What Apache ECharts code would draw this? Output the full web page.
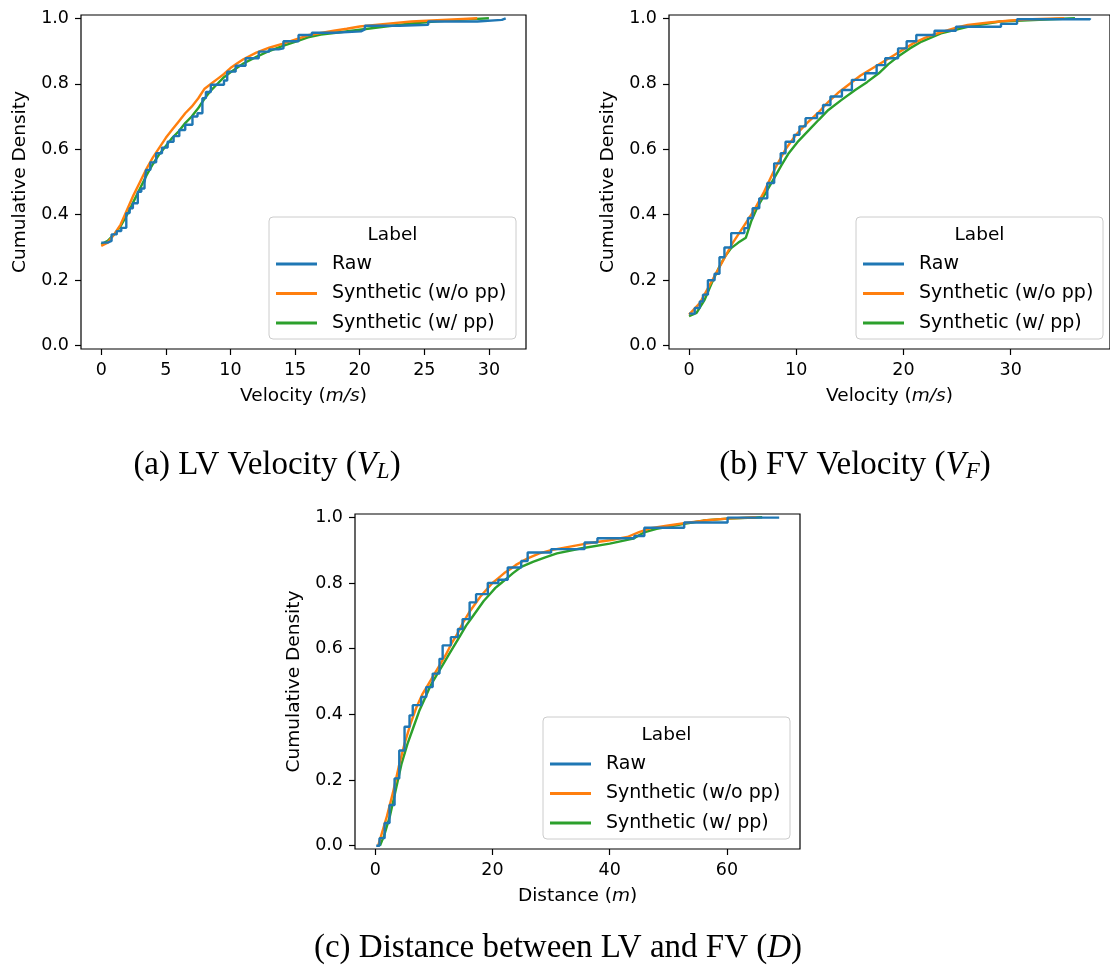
<!DOCTYPE html>
<html><head><meta charset="utf-8">
<script src="https://cdn.jsdelivr.net/npm/echarts@6/dist/echarts.min.js"></script>
<style>html,body{margin:0;padding:0;background:#fff}#c{width:1110px;height:978px}</style>
</head><body><div id="c"></div>
<script>
const seriesNames = ['Raw', 'Synthetic (w/o pp)', 'Synthetic (w/ pp)'];
const legendTitle = 'Label';
const yTicks = [0, 0.2, 0.4, 0.6, 0.8, 1.0];
const lvTicks = [0, 5, 10, 15, 20, 25, 30];
const fvTicks = [0, 10, 20, 30];
const dTicks = [0, 20, 40, 60];

// (a) LV velocity ECDF
const lvRaw = [[0,0.315],[0.5,0.32],[0.8,0.34],[1.2,0.35],[1.55,0.36],[1.94,0.405],[2.2,0.42],[2.45,0.435],[2.83,0.47],[3.1,0.48],[3.35,0.496],[3.47,0.537],[3.8,0.56],[4.25,0.588],[4.7,0.605],[5.14,0.623],[5.6,0.64],[6.04,0.659],[6.5,0.675],[7.06,0.70],[7.45,0.71],[7.83,0.756],[8.1,0.775],[8.48,0.797],[9.5,0.81],[9.75,0.837],[10.4,0.855],[11.17,0.878],[12.19,0.898],[13.0,0.905],[13.73,0.908],[14.1,0.93],[15.27,0.949],[16.3,0.956],[18,0.96],[20.1,0.966],[20.4,0.977],[23.1,0.98],[25.3,0.99],[29.1,0.995],[31.0,1.0],[31.3,1.0]];
const lvSynNoPP = [[0,0.305],[0.5,0.315],[1.0,0.34],[1.5,0.37],[2.0,0.415],[2.5,0.46],[3.0,0.50],[3.5,0.54],[4.0,0.575],[4.5,0.605],[5.0,0.635],[5.5,0.66],[6.0,0.685],[6.5,0.71],[7.0,0.73],[7.5,0.755],[8.0,0.785],[8.5,0.80],[9.0,0.815],[9.5,0.83],[10,0.848],[10.5,0.862],[11,0.875],[12,0.895],[13,0.91],[14,0.922],[15,0.935],[16,0.948],[17,0.955],[18,0.962],[19,0.968],[20,0.975],[21,0.979],[22,0.983],[24,0.99],[26,0.994],[28,0.998],[29.1,1.0]];
const lvSynPP = [[0,0.31],[0.5,0.32],[1,0.34],[1.5,0.365],[2,0.40],[2.5,0.44],[3,0.48],[3.5,0.52],[4,0.555],[4.5,0.585],[5,0.61],[5.5,0.635],[6,0.655],[6.5,0.68],[7,0.70],[7.5,0.725],[8,0.755],[8.5,0.78],[9,0.80],[9.5,0.82],[10,0.835],[11,0.862],[12,0.882],[13,0.90],[14,0.915],[15,0.928],[16,0.942],[17,0.95],[18,0.955],[20,0.965],[22,0.975],[24,0.984],[26,0.991],[28,0.996],[30,1.0]];

// (b) FV velocity ECDF
const fvRaw = [[0,0.098],[0.53,0.115],[1.0,0.135],[1.3,0.156],[1.76,0.20],[2.38,0.22],[2.84,0.27],[3.3,0.30],[3.93,0.344],[5.16,0.359],[5.5,0.39],[5.93,0.42],[6.55,0.45],[7.3,0.497],[7.94,0.557],[8.55,0.588],[9.0,0.623],[9.79,0.644],[10.3,0.67],[10.87,0.695],[11.94,0.71],[12.5,0.735],[13.19,0.761],[14.26,0.781],[15.19,0.812],[16.43,0.832],[17.5,0.857],[18.3,0.878],[19.5,0.908],[20.3,0.93],[21.2,0.949],[22.9,0.962],[24.9,0.974],[29.1,0.983],[30.6,0.997],[37.4,1.0]];
const fvSynNoPP = [[0,0.095],[1,0.13],[2,0.19],[3,0.25],[4,0.31],[5,0.36],[6,0.41],[7,0.47],[8,0.54],[9,0.60],[10,0.645],[11,0.68],[12,0.71],[13,0.745],[14,0.775],[15,0.80],[16,0.825],[17,0.845],[18,0.865],[19,0.885],[20,0.905],[21,0.925],[22,0.94],[23,0.952],[24,0.962],[25,0.972],[26,0.98],[28,0.987],[30,0.993],[32,0.997],[35,1.0]];
const fvSynPP = [[0,0.09],[0.7,0.10],[1.45,0.14],[2.1,0.19],[2.84,0.242],[3.4,0.275],[3.93,0.298],[4.6,0.315],[5.3,0.33],[5.8,0.38],[6.4,0.425],[7.2,0.47],[7.94,0.512],[8.6,0.55],[9.3,0.588],[10.2,0.625],[11.2,0.659],[12.1,0.69],[13.0,0.72],[14.2,0.75],[15.5,0.781],[16.6,0.805],[17.7,0.832],[18.6,0.86],[19.5,0.883],[20.6,0.908],[21.7,0.929],[23.5,0.954],[26,0.974],[29,0.99],[33.7,0.997],[36,1.0]];

// (c) distance ECDF
const dRaw = [[0.17,0],[0.73,0.023],[1.6,0.069],[2.44,0.124],[3.3,0.205],[4.1,0.29],[5.0,0.362],[5.85,0.397],[6.4,0.428],[7.84,0.453],[8.7,0.483],[9.8,0.524],[10.96,0.569],[11.5,0.61],[12.9,0.635],[14.1,0.66],[14.9,0.69],[16.1,0.741],[17.2,0.766],[19.2,0.80],[21.0,0.81],[22.6,0.847],[24.9,0.867],[26.0,0.893],[30.0,0.903],[35.7,0.923],[37.9,0.936],[44.2,0.943],[45.9,0.968],[52.7,0.984],[60.1,0.999],[68.9,1.0]];
const dSynNoPP = [[0.5,0],[1,0.03],[2,0.09],[3,0.16],[4,0.24],[5,0.31],[6,0.37],[7,0.42],[8,0.46],[9,0.49],[10,0.52],[11,0.55],[12,0.58],[13,0.615],[14,0.645],[15,0.68],[16,0.71],[17,0.735],[18,0.76],[19,0.78],[20,0.80],[21,0.815],[22,0.83],[23,0.842],[24,0.855],[25,0.865],[26,0.875],[28,0.89],[30,0.90],[33,0.91],[36,0.92],[40,0.93],[43,0.94],[45,0.955],[47,0.967],[50,0.975],[53,0.983],[56,0.99],[60,0.996],[65,1.0]];
const dSynPP = [[0.8,0],[1.5,0.03],[2.5,0.09],[3.5,0.17],[4.5,0.25],[5.5,0.31],[6.5,0.36],[7.5,0.41],[8.5,0.45],[9.5,0.49],[10.5,0.52],[11.5,0.55],[12.5,0.58],[13.5,0.61],[14.5,0.64],[15.5,0.67],[16.5,0.695],[17.5,0.72],[18.5,0.745],[19.5,0.765],[20.5,0.785],[21.5,0.80],[22.5,0.815],[23.5,0.83],[25,0.85],[27,0.865],[29,0.878],[31,0.89],[35,0.905],[40,0.92],[44,0.935],[46,0.955],[48,0.965],[52,0.978],[56,0.99],[60,0.996],[66,1.0]];

const colors = ['#1f77b4', '#ff7f0e', '#2ca02c'];
const FONT = 'DejaVu Sans';

const panels = [
  {grid:{left:81, top:15, width:445, height:334}, xmin:-1.565, xmax:32.87, ticks:lvTicks, xname:'Velocity ({i|m/s})', data:[lvRaw, lvSynNoPP, lvSynPP]},
  {grid:{left:669, top:15, width:444, height:334}, xmin:-1.87, xmax:39.27, ticks:fvTicks, xname:'Velocity ({i|m/s})', data:[fvRaw, fvSynNoPP, fvSynPP]},
  {grid:{left:355, top:514, width:445, height:335}, xmin:-3.45, xmax:72.45, ticks:dTicks, xname:'Distance ({i|m})', data:[dRaw, dSynNoPP, dSynPP]}
];

const grid = [], xAxis = [], yAxis = [], series = [], legend = [], graphic = [];
const tickStyle = {show:true, length:6, lineStyle:{color:'#000', width:1.2}};
panels.forEach((p, k) => {
  grid.push(Object.assign({show:true, borderColor:'#000', borderWidth:1.2, backgroundColor:'transparent', containLabel:false}, p.grid));
  xAxis.push({type:'value', gridIndex:k, min:p.xmin, max:p.xmax,
    axisLine:{show:false, onZero:false}, splitLine:{show:false},
    axisTick:Object.assign({customValues:p.ticks}, tickStyle),
    axisLabel:{customValues:p.ticks, fontSize:17.5, color:'#000', fontFamily:FONT, margin:12},
    name:p.xname, nameLocation:'middle', nameGap:38,
    nameTextStyle:{fontSize:18.5, color:'#000', fontFamily:FONT, rich:{i:{fontStyle:'italic', fontSize:18.5, color:'#000', fontFamily:FONT}}}
  });
  yAxis.push({type:'value', gridIndex:k, min:-0.01, max:1.01,
    axisLine:{show:false, onZero:false}, splitLine:{show:false},
    axisTick:Object.assign({customValues:yTicks}, tickStyle),
    axisLabel:{customValues:yTicks, fontSize:17.5, color:'#000', fontFamily:FONT, margin:12, formatter:v => v.toFixed(1)},
    name:'Cumulative Density', nameLocation:'middle', nameGap:51, nameRotate:90,
    nameTextStyle:{fontSize:18.5, color:'#000', fontFamily:FONT}
  });
  // draw order: w/ pp bottom, then w/o pp, raw on top
  [2, 1, 0].forEach(s => {
    series.push({type:'line', name:seriesNames[s], xAxisIndex:k, yAxisIndex:k, data:p.data[s],
      step:s === 0 ? 'end' : false, showSymbol:false, symbol:'none', clip:true, z:2 + (2 - s) * 0.1,
      lineStyle:{color:colors[s], width:2.4}, itemStyle:{color:colors[s]}, emphasis:{disabled:true}});
  });
  const g = p.grid;
  const bw = 247, bh = 122;
  const bx = g.left + g.width - 10 - bw, by = g.top + g.height - 10 - bh;
  graphic.push({type:'rect', shape:{x:bx, y:by, width:bw, height:bh, r:4}, z:3,
    style:{fill:'rgba(255,255,255,0.8)', stroke:'#cccccc', lineWidth:1}, silent:true});
  graphic.push({type:'text', x:bx + bw / 2, y:by + 18, z:5, silent:true,
    style:{text:legendTitle, fontSize:18.5, fontFamily:FONT, fill:'#000', align:'center', verticalAlign:'middle'}});
  legend.push({data:seriesNames, orient:'vertical', left:bx + 7, top:by + 47 - 11, padding:0,
    itemWidth:41, itemHeight:3, icon:'rect', itemGap:7.5, selectedMode:false, z:6,
    textStyle:{fontSize:19, fontFamily:FONT, color:'#000', lineHeight:22, padding:[0, 0, 0, 10]}});
});

const capFont = 'Liberation Serif';
const CS = 33;
const capRich = {i:{fontStyle:'italic', fontSize:CS, fontFamily:capFont, fill:'#000'},
                 s:{fontStyle:'italic', fontSize:23, fontFamily:capFont, fill:'#000', padding:[13, 0, 0, 0]}};
graphic.push({type:'text', x:267, y:465, silent:true, style:{text:'(a) LV Velocity ({i|V}{s|L})', fontSize:CS, fontFamily:capFont, fill:'#000', align:'center', verticalAlign:'middle', rich:capRich}});
graphic.push({type:'text', x:855, y:465, silent:true, style:{text:'(b) FV Velocity ({i|V}{s|F})', fontSize:CS, fontFamily:capFont, fill:'#000', align:'center', verticalAlign:'middle', rich:capRich}});
graphic.push({type:'text', x:558, y:948, silent:true, style:{text:'(c) Distance between LV and FV ({i|D})', fontSize:CS, fontFamily:capFont, fill:'#000', align:'center', verticalAlign:'middle', rich:capRich}});

const chart = echarts.init(document.getElementById('c'), null, {renderer:'canvas'});
chart.setOption({animation:false, backgroundColor:'#fff', color:colors,
  grid, xAxis, yAxis, series, legend, graphic});
</script>
</body></html>
